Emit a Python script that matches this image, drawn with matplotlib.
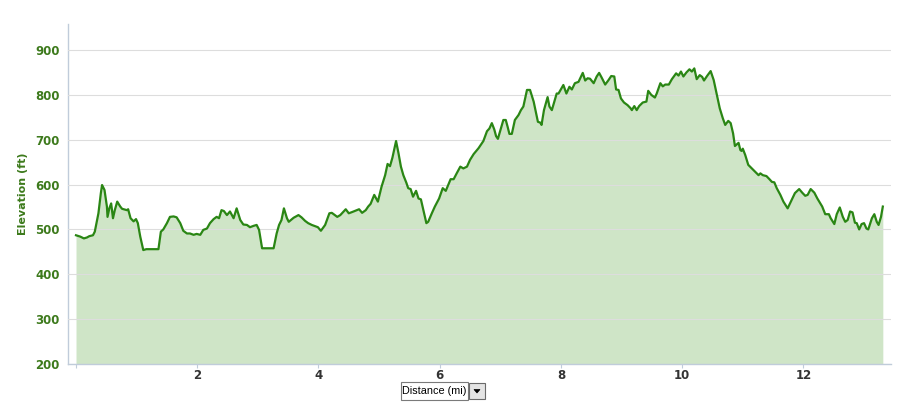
import matplotlib
matplotlib.use("Agg")
import matplotlib.pyplot as plt
from matplotlib.patches import Rectangle, Polygon

# elevation profile (distance in miles, elevation in feet)
distance_mi = [
    0.00, 0.07, 0.13, 0.18, 0.22, 0.28, 0.31, 0.37, 0.41, 0.43, 0.47, 0.51, 0.52, 0.55, 0.58,
    0.61, 0.64, 0.68, 0.73, 0.76, 0.84, 0.86, 0.90, 0.95, 0.99, 1.02, 1.06, 1.11, 1.16, 1.36,
    1.40, 1.44, 1.50, 1.55, 1.61, 1.66, 1.72, 1.77, 1.83, 1.88, 1.94, 1.99, 2.05, 2.10, 2.16,
    2.21, 2.27, 2.32, 2.36, 2.40, 2.44, 2.49, 2.54, 2.60, 2.65, 2.71, 2.76, 2.82, 2.87, 2.93,
    2.98, 3.02, 3.07, 3.26, 3.31, 3.35, 3.39, 3.43, 3.48, 3.51, 3.59, 3.67, 3.72, 3.78, 3.83,
    3.89, 3.99, 4.04, 4.11, 4.18, 4.22, 4.27, 4.31, 4.36, 4.45, 4.50, 4.56, 4.67, 4.72, 4.78,
    4.82, 4.86, 4.92, 4.98, 5.04, 5.10, 5.14, 5.18, 5.22, 5.28, 5.32, 5.36, 5.40, 5.45, 5.48,
    5.52, 5.56, 5.61, 5.65, 5.69, 5.73, 5.78, 5.81, 5.87, 5.92, 5.99, 6.05, 6.10, 6.14, 6.18,
    6.23, 6.28, 6.34, 6.39, 6.45, 6.50, 6.56, 6.64, 6.72, 6.78, 6.82, 6.86, 6.90, 6.93, 6.96,
    7.01, 7.05, 7.09, 7.12, 7.15, 7.19, 7.24, 7.30, 7.34, 7.38, 7.44, 7.49, 7.55, 7.62, 7.66,
    7.68, 7.72, 7.78, 7.81, 7.85, 7.90, 7.93, 7.96, 8.01, 8.04, 8.09, 8.14, 8.18, 8.23, 8.29,
    8.36, 8.40, 8.44, 8.48, 8.54, 8.59, 8.63, 8.67, 8.73, 8.78, 8.83, 8.88, 8.91, 8.95, 8.99,
    9.04, 9.10, 9.15, 9.17, 9.21, 9.25, 9.29, 9.35, 9.41, 9.44, 9.49, 9.55, 9.58, 9.64, 9.68,
    9.72, 9.78, 9.83, 9.90, 9.94, 9.98, 10.02, 10.07, 10.12, 10.16, 10.20, 10.24, 10.29, 10.33, 10.36,
    10.41, 10.47, 10.52, 10.57, 10.62, 10.67, 10.71, 10.76, 10.80, 10.84, 10.87, 10.93, 10.96, 10.98, 11.00,
    11.04, 11.09, 11.15, 11.20, 11.26, 11.29, 11.33, 11.39, 11.44, 11.48, 11.52, 11.56, 11.62, 11.67, 11.74,
    11.81, 11.86, 11.93, 11.98, 12.03, 12.07, 12.12, 12.18, 12.23, 12.31, 12.36, 12.42, 12.45, 12.51, 12.55,
    12.60, 12.65, 12.69, 12.73, 12.77, 12.81, 12.85, 12.88, 12.92, 12.96, 13.00, 13.04, 13.07, 13.13, 13.17,
    13.21, 13.24, 13.28, 13.31,
]
elevation_ft = [
    487, 484, 480, 482, 485, 487, 495, 536, 581, 599, 588, 551, 528, 547, 558,
    525, 543, 562, 551, 546, 543, 545, 525, 518, 523, 514, 484, 454, 456, 456,
    495, 500, 514, 528, 529, 527, 514, 497, 491, 491, 488, 490, 488, 499, 502,
    514, 523, 528, 525, 543, 541, 532, 540, 525, 547, 521, 511, 510, 505, 508,
    510, 499, 458, 458, 491, 510, 521, 547, 525, 517, 526, 532, 527, 519, 514,
    510, 505, 497, 510, 536, 537, 532, 528, 532, 545, 536, 539, 545, 537, 543,
    551, 557, 577, 562, 595, 621, 646, 641, 660, 697, 670, 640, 621, 604, 592,
    590, 573, 586, 569, 567, 543, 514, 517, 536, 551, 569, 592, 586, 599, 612,
    612, 625, 640, 636, 640, 655, 668, 681, 697, 719, 725, 737, 723, 708, 702,
    725, 744, 744, 729, 713, 713, 744, 755, 766, 774, 811, 811, 785, 740, 738,
    733, 766, 795, 774, 766, 789, 803, 803, 815, 822, 803, 818, 812, 826, 829,
    849, 832, 837, 836, 826, 841, 849, 839, 823, 832, 842, 841, 812, 811, 792,
    783, 777, 770, 766, 775, 766, 775, 783, 785, 809, 800, 794, 803, 826, 819,
    823, 823, 835, 848, 843, 852, 841, 850, 857, 852, 859, 835, 844, 840, 832,
    842, 853, 833, 801, 770, 748, 733, 742, 737, 714, 686, 693, 677, 675, 680,
    666, 644, 636, 629, 621, 625, 621, 619, 612, 606, 605, 592, 577, 562, 547,
    567, 581, 590, 582, 575, 577, 590, 582, 569, 551, 534, 534, 525, 512, 534,
    549, 528, 517, 521, 540, 538, 515, 514, 500, 512, 514, 502, 500, 525, 534,
    517, 510, 528, 551,
]
x_ticks = [0, 2, 4, 6, 8, 10, 12]
x_tick_labels = ["", "2", "4", "6", "8", "10", "12"]
y_ticks = [200, 300, 400, 500, 600, 700, 800, 900]

W, H = 905, 412
line_green = "#2A8614"
label_green = "#3D7A1C"
axis_color = "#C0CCDA"

fig = plt.figure(figsize=(W / 100, H / 100), dpi=100)
ax = fig.add_axes([68 / W, 1 - 364 / H, (890.7 - 68) / W, 340 / H])

ax.fill_between(distance_mi, elevation_ft, 200, color="#A9D09A", alpha=0.55, linewidth=0, zorder=1)
ax.plot(distance_mi, elevation_ft, color=line_green, linewidth=1.6, zorder=3)

ax.set_xlim(-0.132, 13.44)
ax.set_ylim(200, 958)
ax.set_xticks(x_ticks)
ax.set_xticklabels(x_tick_labels)
ax.set_yticks(y_ticks)

ax.grid(axis="y", color="#DDDDDD", linewidth=0.8, zorder=2)
ax.set_axisbelow(False)
for s in ["top", "right"]:
    ax.spines[s].set_visible(False)
for s in ["left", "bottom"]:
    ax.spines[s].set_color(axis_color)
    ax.spines[s].set_linewidth(1.0)

ax.tick_params(axis="y", length=0, pad=6, labelsize=8.5, labelcolor=label_green)
ax.tick_params(axis="x", length=3, width=0.8, color=axis_color, pad=0.5, labelsize=8.5, labelcolor="#333333")
for lbl in ax.get_yticklabels() + ax.get_xticklabels():
    lbl.set_fontweight("bold")

ax.set_ylabel("Elevation (ft)", color=label_green, fontsize=8, fontweight="bold", labelpad=5)

# "Distance (mi)" selector box with dropdown button
fx = lambda px: px / W
fy = lambda py: 1 - py / H
fig.add_artist(Rectangle((fx(401), fy(400)), fx(468) - fx(401), fy(382) - fy(400),
                         transform=fig.transFigure, facecolor="white", edgecolor="#7A7A7A", linewidth=0.8))
fig.add_artist(Rectangle((fx(469), fy(399)), fx(485) - fx(469), fy(383) - fy(399),
                         transform=fig.transFigure, facecolor="#E4E4E4", edgecolor="#6A6A6A", linewidth=0.8))
fig.add_artist(Polygon([(fx(474), fy(389.5)), (fx(480), fy(389.5)), (fx(477), fy(393))],
                       closed=True, transform=fig.transFigure, facecolor="black", edgecolor="black", linewidth=0.5))
fig.text(fx(434.5), fy(391), "Distance (mi)", ha="center", va="center", fontsize=7.8,
         family=["Liberation Sans Narrow", "Liberation Sans"], color="black")

fig.savefig("out.png", dpi=100)
